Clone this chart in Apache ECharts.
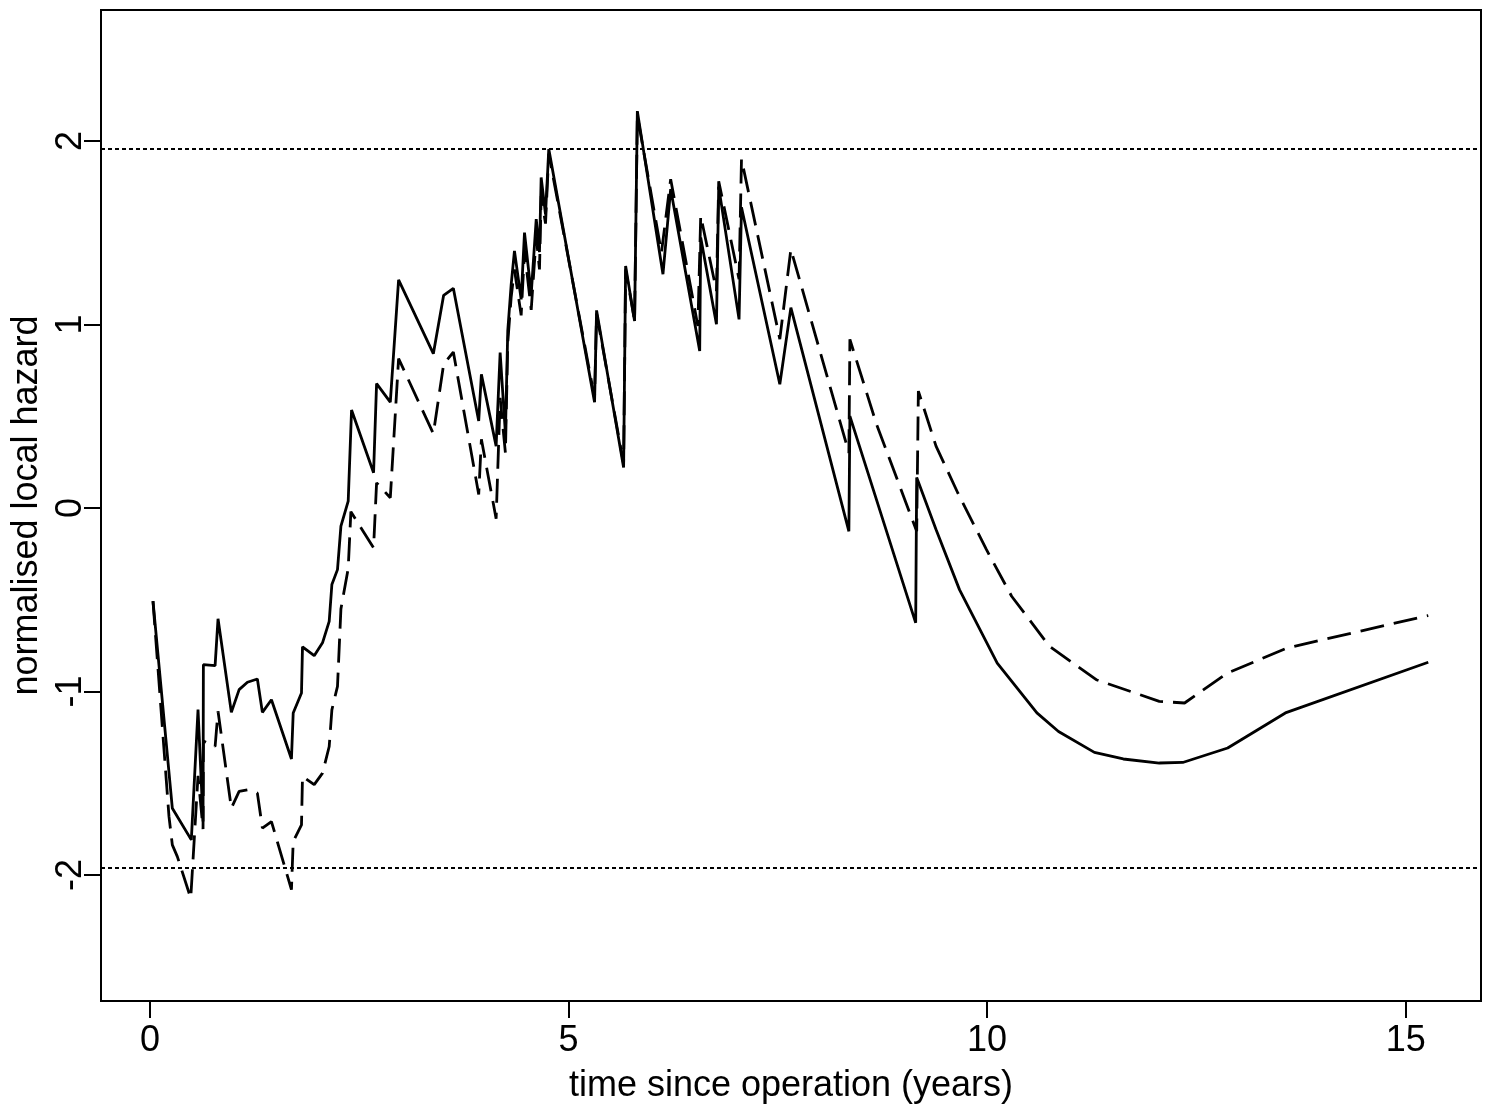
<!DOCTYPE html>
<html>
<head>
<meta charset="utf-8">
<script src="https://cdn.jsdelivr.net/npm/echarts@6/dist/echarts.min.js"></script>
<style>
  html, body { margin: 0; padding: 0; background: #fff; }
  #chart { width: 1494px; height: 1113px; }
</style>
</head>
<body>
<div id="chart"></div>
<script>
// Normalised local hazard against time since operation (years)
const timeSolid = [0.036, 0.267, 0.494, 0.574, 0.634, 0.638, 0.778, 0.813, 0.972, 1.065, 1.164, 1.283, 1.343, 1.451, 1.690, 1.711, 1.810, 1.822, 1.962, 2.061, 2.141, 2.173, 2.240, 2.281, 2.368, 2.408, 2.671, 2.707, 2.871, 2.970, 3.385, 3.508, 3.624, 3.927, 3.959, 4.135, 4.183, 4.246, 4.274, 4.315, 4.354, 4.434, 4.474, 4.554, 4.614, 4.653, 4.673, 4.725, 4.764, 5.311, 5.335, 5.658, 5.682, 5.789, 5.822, 6.128, 6.220, 6.567, 6.579, 6.767, 6.794, 7.037, 7.066, 7.524, 7.656, 8.349, 8.361, 9.147, 9.159, 9.390, 9.670, 10.121, 10.595, 10.853, 11.282, 11.627, 12.057, 12.337, 12.874, 13.563, 15.270];
const hazardSolid = [-0.508, -1.636, -1.809, -1.099, -1.709, -0.854, -0.859, -0.604, -1.114, -0.990, -0.950, -0.932, -1.114, -1.045, -1.368, -1.117, -1.008, -0.757, -0.805, -0.735, -0.618, -0.417, -0.336, -0.099, 0.037, 0.534, 0.192, 0.678, 0.577, 1.243, 0.841, 1.159, 1.197, 0.474, 0.728, 0.337, 0.847, 0.406, 0.965, 1.219, 1.401, 1.137, 1.501, 1.165, 1.574, 1.394, 1.801, 1.601, 1.956, 0.576, 1.077, 0.221, 1.319, 1.019, 2.163, 1.274, 1.738, 0.855, 1.474, 1.001, 1.750, 1.028, 1.639, 0.674, 1.092, -0.127, 0.501, -0.626, 0.166, -0.117, -0.445, -0.845, -1.117, -1.218, -1.332, -1.368, -1.390, -1.387, -1.308, -1.117, -0.841];

const timeDashed = [0.036, 0.227, 0.267, 0.327, 0.487, 0.574, 0.634, 0.638, 0.778, 0.813, 0.972, 1.065, 1.164, 1.283, 1.343, 1.451, 1.690, 1.711, 1.810, 1.822, 1.962, 2.061, 2.141, 2.173, 2.240, 2.281, 2.368, 2.400, 2.671, 2.707, 2.871, 2.970, 3.385, 3.508, 3.624, 3.927, 3.959, 4.135, 4.183, 4.246, 4.274, 4.315, 4.354, 4.434, 4.474, 4.554, 4.614, 4.653, 4.673, 4.725, 4.764, 5.311, 5.335, 5.658, 5.682, 5.789, 5.822, 6.110, 6.220, 6.545, 6.579, 6.767, 6.794, 7.037, 7.066, 7.524, 7.656, 8.349, 8.361, 8.680, 9.159, 9.179, 9.390, 9.649, 9.991, 10.293, 10.745, 11.304, 12.057, 12.359, 12.874, 13.585, 15.270];
const hazardDashed = [-0.508, -1.681, -1.836, -1.900, -2.127, -1.460, -1.750, -1.270, -1.300, -1.108, -1.636, -1.545, -1.536, -1.554, -1.745, -1.709, -2.080, -1.818, -1.727, -1.463, -1.508, -1.445, -1.300, -1.100, -0.972, -0.550, -0.330, -0.020, -0.217, 0.137, 0.056, 0.814, 0.405, 0.783, 0.850, 0.074, 0.374, -0.059, 0.600, 0.300, 0.900, 1.150, 1.300, 1.050, 1.400, 1.080, 1.480, 1.300, 1.700, 1.550, 1.930, 0.600, 1.060, 0.240, 1.300, 1.020, 2.140, 1.392, 1.792, 0.992, 1.592, 1.183, 1.780, 1.247, 1.901, 0.920, 1.410, 0.301, 0.919, 0.455, -0.127, 0.637, 0.337, 0.083, -0.226, -0.481, -0.754, -0.936, -1.054, -1.063, -0.899, -0.763, -0.586];

const xTicks = [0, 5, 10, 15];
const yTicks = [-2, -1, 0, 1, 2];
const bandLevel = 1.96;   // +/- reference lines

const FONT = "'Liberation Sans', Arial, Helvetica, sans-serif";
const pairs = (xs, ys) => xs.map((x, i) => [x, ys[i]]);

const chart = echarts.init(document.getElementById('chart'), null, { renderer: 'canvas' });

chart.setOption({
  animation: false,
  backgroundColor: '#ffffff',
  grid: {
    left: 101, top: 10, width: 1380, height: 991,
    containLabel: false, outerBoundsMode: 'none',
    show: true, borderColor: '#000', borderWidth: 2, backgroundColor: 'transparent'
  },
  xAxis: {
    type: 'value',
    min: -0.585, max: 15.90,
    axisLine: { show: false, onZero: false },
    splitLine: { show: false },
    axisTick: { show: true, inside: false, length: 17, customValues: xTicks,
                lineStyle: { color: '#000', width: 2 } },
    axisLabel: { show: true, customValues: xTicks, margin: 22,
                 color: '#000', fontSize: 36, fontFamily: FONT },
    name: 'time since operation (years)',
    nameLocation: 'middle', nameGap: 67,
    nameTextStyle: { color: '#000', fontSize: 36, fontFamily: FONT }
  },
  yAxis: {
    type: 'value',
    min: -2.687, max: 2.714,
    axisLine: { show: false, onZero: false },
    splitLine: { show: false },
    axisTick: { show: true, inside: false, length: 17, customValues: yTicks,
                lineStyle: { color: '#000', width: 2 } },
    axisLabel: { show: true, customValues: yTicks, margin: 12, rotate: 90,
                 color: '#000', fontSize: 36, fontFamily: FONT },
    name: 'normalised local hazard',
    nameLocation: 'middle', nameGap: 53, nameRotate: 90,
    nameTextStyle: { color: '#000', fontSize: 36, fontFamily: FONT }
  },
  series: [
    {
      name: 'dashed',
      type: 'line',
      data: pairs(timeDashed, hazardDashed),
      symbol: 'none',
      lineStyle: { color: '#000', width: 2.8, type: [24, 10] },
      markLine: {
        silent: true, symbol: 'none', label: { show: false },
        lineStyle: { color: '#000', width: 2, type: [4, 3] },
        data: [{ yAxis: bandLevel }, { yAxis: -bandLevel }]
      }
    },
    {
      name: 'solid',
      type: 'line',
      data: pairs(timeSolid, hazardSolid),
      symbol: 'none',
      lineStyle: { color: '#000', width: 2.8, type: 'solid' }
    }
  ]
});
</script>
</body>
</html>
